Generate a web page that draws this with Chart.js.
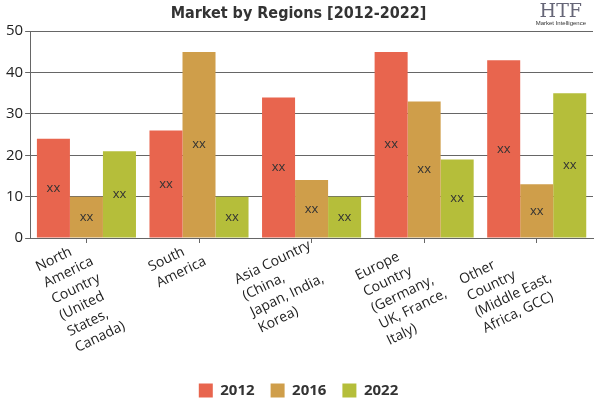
<!DOCTYPE html>
<html>
<head>
<meta charset="utf-8">
<script src="https://cdn.jsdelivr.net/npm/chart.js@4/dist/chart.umd.min.js"></script>
<style>
  html, body { margin: 0; padding: 0; background: #fff; }
  #wrap { position: relative; width: 600px; height: 400px; }
  #logo { position: absolute; right: 14px; top: 1px; font-family: "DejaVu Serif", serif; font-size: 19px; color: #667; line-height: 18px; text-align: center; }
  #logo small { display: block; font-family: "Liberation Sans", sans-serif; font-size: 6px; color: #333; line-height: 8px; }
</style>
</head>
<body>
<div id="wrap">
  <canvas id="regions" width="600" height="400"></canvas>
  <div id="logo">HTF<small>Market Intelligence</small></div>
</div>
<script>
const regions = [
    ['North', 'America', 'Country', '(United', 'States,', 'Canada)'],
    ['South', 'America'],
    ['Asia Country', '(China,', 'Japan, India,', 'Korea)'],
    ['Europe', 'Country', '(Germany,', 'UK, France,', 'Italy)'],
    ['Other', 'Country', '(Middle East,', 'Africa, GCC)']
];
const years = ['2012', '2016', '2022'];
const values2012 = [24, 26, 34, 45, 43];
const values2016 = [10, 45, 14, 33, 13];
const values2022 = [21, 10, 10, 19, 35];
const yTicks = [0, 10, 20, 30, 40, 50];

// scrive "xx" al centro di ogni barra
const xxLabels = {
    id: 'xxLabels',
    afterDatasetsDraw(chart) {
        const ctx = chart.ctx;
        ctx.save();
        ctx.font = '13px "Open Sans"';
        ctx.fillStyle = '#333';
        ctx.textAlign = 'center';
        ctx.textBaseline = 'middle';
        chart.data.datasets.forEach((ds, i) => {
            chart.getDatasetMeta(i).data.forEach((bar) => {
                ctx.fillText('xx', bar.x, (bar.y + bar.base) / 2);
            });
        });
        ctx.restore();
    }
};

// etichette asse x ruotate, righe allineate a sinistra
const rotatedLabels = {
    id: 'rotatedLabels',
    afterDraw(chart) {
        const ctx = chart.ctx;
        const scale = chart.scales.x;
        const angle = -26 * Math.PI / 180;
        ctx.save();
        ctx.font = '14px "Open Sans"';
        ctx.fillStyle = '#222';
        ctx.textAlign = 'left';
        ctx.textBaseline = 'alphabetic';
        regions.forEach((lines, i) => {
            const w = Math.max(...lines.map(l => ctx.measureText(l).width));
            ctx.save();
            ctx.translate(scale.getPixelForTick(i), scale.top + 10);
            ctx.rotate(angle);
            lines.forEach((l, j) => ctx.fillText(l, -w, j * 18));
            ctx.restore();
        });
        ctx.restore();
    }
};

new Chart(document.getElementById('regions'), {
    type: 'bar',
    plugins: [xxLabels, rotatedLabels],
    data: {
        labels: regions.map(r => r.join(' ')),
        datasets: [
            { label: years[0], data: values2012, backgroundColor: '#E8654E' },
            { label: years[1], data: values2016, backgroundColor: '#CF9E4A' },
            { label: years[2], data: values2022, backgroundColor: '#B5BE3A' }
        ]
    },
    options: {
        responsive: false,
        animation: false,
        layout: { padding: { left: 4, right: 7, top: 0, bottom: -8 } },
        datasets: { bar: { categoryPercentage: 0.88, barPercentage: 1 } },
        plugins: {
            title: {
                display: true,
                text: 'Market by Regions [2012-2022]',
                font: { family: '"DejaVu Sans Condensed", "DejaVu Sans"', size: 16, weight: 'bold' },
                color: '#333',
                padding: { top: 4, bottom: 8 }
            },
            legend: {
                position: 'bottom',
                labels: {
                    boxWidth: 14, boxHeight: 14,
                    font: { family: '"Open Sans"', size: 15, weight: 'bold' },
                    color: '#333',
                    padding: 16
                }
            },
            tooltip: { enabled: false }
        },
        scales: {
            x: {
                afterFit: (scale) => { scale.height = 129; },
                grid: { display: true, drawOnChartArea: false, drawTicks: true, tickLength: 5, offset: false, color: '#666' },
                border: { color: '#666' },
                ticks: { display: false }
            },
            y: {
                min: 0, max: 50,
                afterBuildTicks: (axis) => { axis.ticks = yTicks.map(v => ({ value: v })); },
                grid: { color: '#666', drawTicks: true, tickLength: 5 },
                border: { color: '#666' },
                ticks: {
                    font: { family: '"Open Sans"', size: 15 },
                    color: '#222',
                    padding: 2
                }
            }
        }
    }
});
</script>
</body>
</html>
